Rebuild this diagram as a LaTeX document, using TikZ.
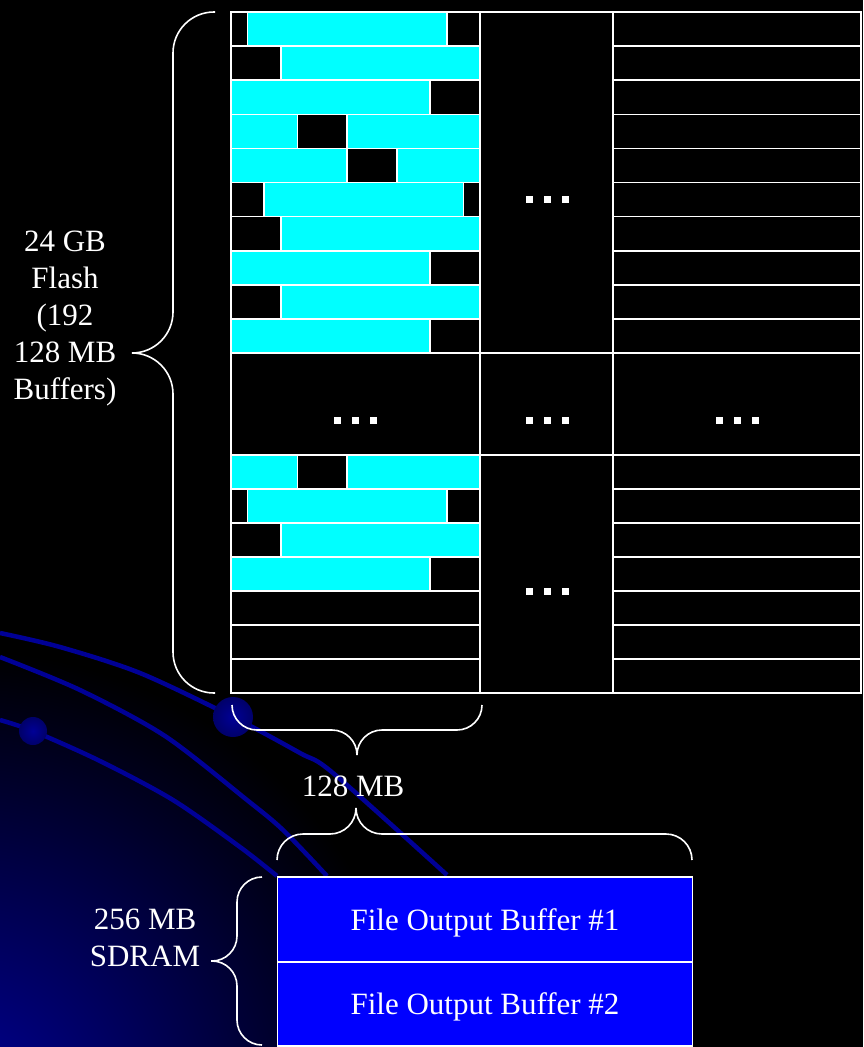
\documentclass[tikz,border=0pt]{standalone}
\usepackage{fontspec}
\setmainfont{Liberation Serif}
\usetikzlibrary{positioning}
\definecolor{bgblue}{RGB}{0,0,150}
\definecolor{swirl}{RGB}{0,0,150}
\definecolor{used}{RGB}{0,255,255}
\definecolor{bufblue}{RGB}{0,0,255}

\begin{document}
\begin{tikzpicture}[x=1pt, y=-1pt,
	every node/.style={font=\fontsize{31}{37}\selectfont, text=white},
	cell/.style={draw=white, line width=1.6pt},
	brace/.style={draw=white, line width=1.6pt, rounded corners=#1}, brace/.default=25,
	bufbox/.style={draw=white, fill=bufblue, line width=1.6pt, outer sep=0pt, inner sep=0pt,
		minimum width=415pt, minimum height=84.5pt, text depth=0pt},
	dotsmark/.style={inner sep=0pt}]
	\useasboundingbox (0,0) rectangle (863,1047);
	% background of the slide
	\fill[black] (0,0) rectangle (863,1047);
	\begin{scope}
		\clip (0,0) rectangle (863,1047);
		\shade[inner color=bgblue, outer color=black] (-40,1110) circle (460);
	\end{scope}
	\draw[swirl, line width=4.5pt] plot[smooth] coordinates {(0,633) (60,647) (140,673) (233,717) (300,753) (333,773) (447,875)};
	\draw[swirl, line width=4.5pt] plot[smooth] coordinates {(0,657) (80,690) (165,736) (247,800) (283,830) (327,876)};
	\draw[swirl, line width=4.5pt] plot[smooth] coordinates {(0,720) (33,731) (100,761) (173,800) (240,847) (277,876)};
	\shade[inner color=swirl, outer color=swirl!70!black] (233,717) circle (20);
	\shade[inner color=swirl, outer color=swirl!70!black] (33,731) circle (14);
	% flash blocks
	\foreach \row in {0,...,9} {
		\draw[cell, fill=black] (231,{12+\row*34.1}) rectangle (480,{12+(\row+1)*34.1});
		\draw[cell, fill=black] (613,{12+\row*34.1}) rectangle (861,{12+(\row+1)*34.1});
	}
	\foreach \row in {0,...,6} {
		\draw[cell, fill=black] (231,{455+\row*34}) rectangle (480,{455+(\row+1)*34});
		\draw[cell, fill=black] (613,{455+\row*34}) rectangle (861,{455+(\row+1)*34});
	}
	\foreach \row/\from/\to in {0/1/13, 1/3/15, 2/0/12, 3/0/4, 3/7/15, 4/0/7, 4/10/15,
		5/2/14, 6/3/15, 7/0/12, 8/3/15, 9/0/12}
		\draw[cell, fill=used] ({231+\from*16.6},{12+\row*34.1}) rectangle ({231+\to*16.6},{12+(\row+1)*34.1});
	\foreach \row/\from/\to in {0/0/4, 0/7/15, 1/1/13, 2/3/15, 3/0/12}
		\draw[cell, fill=used] ({231+\from*16.6},{455+\row*34}) rectangle ({231+\to*16.6},{455+(\row+1)*34});
	\draw[cell, fill=black] (480,12) rectangle (613,353);
	\draw[cell, fill=black] (480,455) rectangle (613,693);
	\draw[cell, fill=black] (231,353) rectangle (480,455);
	\draw[cell, fill=black] (480,353) rectangle (613,455);
	\draw[cell, fill=black] (613,353) rectangle (861,455);
	\foreach \name/\x/\y in {dotsA/547/199, dotsB/355/420, dotsC/547/420, dotsD/737/420, dotsE/547/591}
		\node[dotsmark] (\name) at (\x,\y) {\rule{7pt}{7pt}\hspace{11pt}\rule{7pt}{7pt}\hspace{11pt}\rule{7pt}{7pt}};
	% braces
	\coordinate (flashtip) at (132,353);
	\coordinate (coltip) at (357,755);
	\coordinate (buftip) at (356,808);
	\coordinate (sdramtip) at (211,961);
	\draw[brace=41] (215,12) -- (173,12) -- (173,353) -- (flashtip) (flashtip) -- (173,353) -- (173,693) -- (215,693);
	\draw[brace] (232,705) -- (232,730) -- (357,730) -- (coltip) (coltip) -- (357,730) -- (482,730) -- (482,705);
	\draw[brace=26] (277,860) -- (277,834) -- (356,834) -- (buftip) (buftip) -- (356,834) -- (692,834) -- (692,860);
	\draw[brace] (262,877) -- (237,877) -- (237,961) -- (sdramtip) (sdramtip) -- (237,961) -- (237,1045) -- (262,1045);
	% labels
	\node[align=center] (flashlbl) at (65,319) {24 GB\\Flash\\(192\\128 MB\\Buffers)};
	\node (collbl) at (353,786) {128 MB};
	\node[align=center] (sdramlbl) at (145,938) {256 MB\\SDRAM};
	% SDRAM buffers
	\node[bufbox] (buf1) at (485,919.5) {File Output Buffer \#1};
	\node[bufbox, below=0pt of buf1] (buf2) {File Output Buffer \#2};
\end{tikzpicture}
\end{document}
